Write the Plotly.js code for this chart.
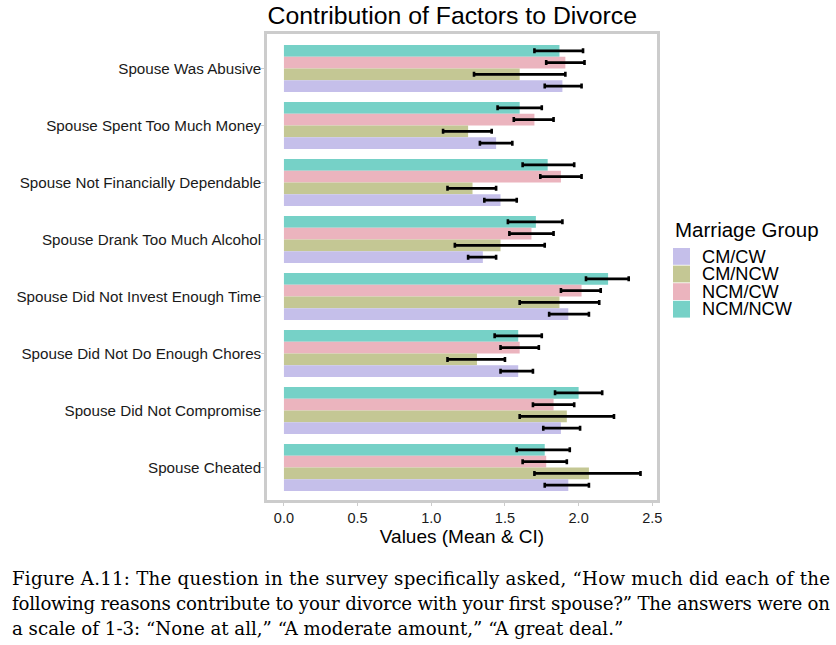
<!DOCTYPE html>
<html>
<head>
<meta charset="utf-8">
<script src="https://cdn.plot.ly/plotly-3.0.1.min.js"></script>
<style>
  body { margin: 0; background: #fff; }
  #graph { width: 836px; height: 645px; }
</style>
</head>
<body>
<div id="graph"></div>
<script>
// factors, top to bottom as in the figure
var factors = [
  "Spouse Was Abusive",
  "Spouse Spent Too Much Money",
  "Spouse Not Financially Dependable",
  "Spouse Drank Too Much Alcohol",
  "Spouse Did Not Invest Enough Time",
  "Spouse Did Not Do Enough Chores",
  "Spouse Did Not Compromise",
  "Spouse Cheated"
];

var groups = ["CM/CW", "CM/NCW", "NCM/CW", "NCM/NCW"];
var colors = ["#c5bfea", "#c4c794", "#ebb4be", "#76d1c7"];

// means and confidence interval bounds
var meanCMCW   = [1.89, 1.44, 1.47, 1.35, 1.93, 1.59, 1.88, 1.93];
var loCMCW     = [1.77, 1.33, 1.36, 1.25, 1.80, 1.47, 1.76, 1.77];
var hiCMCW     = [2.02, 1.55, 1.58, 1.44, 2.07, 1.69, 2.01, 2.07];

var meanCMNCW  = [1.60, 1.25, 1.28, 1.47, 1.87, 1.31, 1.92, 2.07];
var loCMNCW    = [1.29, 1.08, 1.11, 1.16, 1.60, 1.11, 1.60, 1.70];
var hiCMNCW    = [1.91, 1.41, 1.44, 1.77, 2.14, 1.50, 2.24, 2.42];

var meanNCMCW  = [1.91, 1.70, 1.88, 1.68, 2.02, 1.60, 1.83, 1.78];
var loNCMCW    = [1.78, 1.56, 1.74, 1.53, 1.88, 1.47, 1.69, 1.62];
var hiNCMCW    = [2.04, 1.83, 2.02, 1.83, 2.15, 1.73, 1.97, 1.92];

var meanNCMNCW = [1.87, 1.60, 1.79, 1.71, 2.20, 1.59, 2.00, 1.77];
var loNCMNCW   = [1.70, 1.45, 1.62, 1.52, 2.05, 1.43, 1.84, 1.58];
var hiNCMNCW   = [2.03, 1.75, 1.97, 1.89, 2.34, 1.75, 2.16, 1.94];

var means = [meanCMCW, meanCMNCW, meanNCMCW, meanNCMNCW];
var los = [loCMCW, loCMNCW, loNCMCW, loNCMNCW];
var his = [hiCMCW, hiCMNCW, hiNCMCW, hiNCMNCW];

var data = [];
// NCM/NCW first so it sits on top of each group (reversed y axis)
for (var g = groups.length - 1; g >= 0; g--) {
  var m = means[g];
  data.push({
    type: "bar",
    orientation: "h",
    name: groups[g],
    y: factors,
    x: m,
    marker: {color: colors[g]},
    error_x: {
      type: "data",
      symmetric: false,
      array: his[g].map(function (h, i) { return h - m[i]; }),
      arrayminus: los[g].map(function (l, i) { return m[i] - l; }),
      color: "#000",
      thickness: 2.6,
      width: 2.5
    },
    hoverinfo: "x+y+name"
  });
}

// plot area in pixels: x 267..657, y 34..500
function px(x) { return (x - 267) / 390; }
function py(y) { return (500 - y) / 466; }

var shapes = [];
var annotations = [];

// legend drawn by hand so the keys can sit close together like ggplot's
annotations.push({
  text: "Marriage Group", xref: "paper", yref: "paper",
  x: px(673), y: py(229), xanchor: "left", yanchor: "middle",
  showarrow: false, font: {size: 20.5, color: "#000"}
});
groups.forEach(function (name, i) {
  var top = 248 + i * 17.6;
  shapes.push({
    type: "rect", xref: "paper", yref: "paper",
    x0: px(673), x1: px(690), y0: py(top), y1: py(top + 16.8),
    fillcolor: colors[i], line: {width: 0}
  });
  annotations.push({
    text: name, xref: "paper", yref: "paper",
    x: px(700), y: py(top + 8.6), xanchor: "left", yanchor: "middle",
    showarrow: false, font: {size: 18.2, color: "#000"}
  });
});

var captionFont = {family: "DejaVu Serif, serif", size: 18.2, color: "#000"};
var captionLines = [
  "Figure A.11: The question in the survey specifically asked, “How much did each of the",
  "following reasons contribute to your divorce with your first spouse?” The answers were on",
  "a scale of 1-3: “None at all,” “A moderate amount,” “A great deal.”"
];
captionLines.forEach(function (line, i) {
  annotations.push({
    text: line, xref: "paper", yref: "paper",
    x: px(10), y: py(578 + i * 25), xanchor: "left", yanchor: "middle",
    width: 822, align: "left",
    showarrow: false, font: captionFont
  });
});

var layout = {
  width: 836,
  height: 645,
  paper_bgcolor: "#fff",
  plot_bgcolor: "#fff",
  margin: {l: 267, r: 179, t: 34, b: 145},
  barmode: "group",
  bargap: 0.175,
  bargroupgap: 0,
  showlegend: false,
  font: {family: "Liberation Sans, Arial, sans-serif", color: "#1a1a1a"},
  title: {
    text: "Contribution of Factors to Divorce",
    font: {size: 24.8, color: "#000"},
    x: 0.541, xref: "container", xanchor: "center",
    y: 0.976, yref: "container", yanchor: "middle"
  },
  xaxis: {
    range: [-0.115, 2.532],
    tickvals: [0, 0.5, 1, 1.5, 2, 2.5],
    ticktext: ["0.0", "0.5", "1.0", "1.5", "2.0", "2.5"],
    ticks: "outside", ticklen: 3, tickcolor: "#cccccc", tickwidth: 1,
    tickfont: {size: 14.5, color: "#1a1a1a"},
    showgrid: false, zeroline: false,
    showline: true, mirror: true, linecolor: "#cccccc", linewidth: 2.5,
    title: {text: "Values (Mean & CI)", font: {size: 19, color: "#000"}, standoff: 2}
  },
  yaxis: {
    range: [7.57, -0.605],
    ticks: "outside", ticklen: 3, tickcolor: "#cccccc", tickwidth: 1,
    ticklabelstandoff: -3,
    tickfont: {size: 15.2, color: "#1a1a1a"},
    showgrid: false, zeroline: false,
    showline: true, mirror: true, linecolor: "#cccccc", linewidth: 2.5
  },
  shapes: shapes,
  annotations: annotations
};

Plotly.newPlot("graph", data, layout, {displayModeBar: false}).then(function (gd) {
  // first two caption lines are justified in the source, stretch them to the full width
  gd.querySelectorAll(".annotation-text").forEach(function (t) {
    var s = t.textContent;
    if (s === captionLines[0] || s === captionLines[1]) {
      t.setAttribute("textLength", 818);
      t.setAttribute("lengthAdjust", "spacing");
    }
  });
});
</script>
</body>
</html>
